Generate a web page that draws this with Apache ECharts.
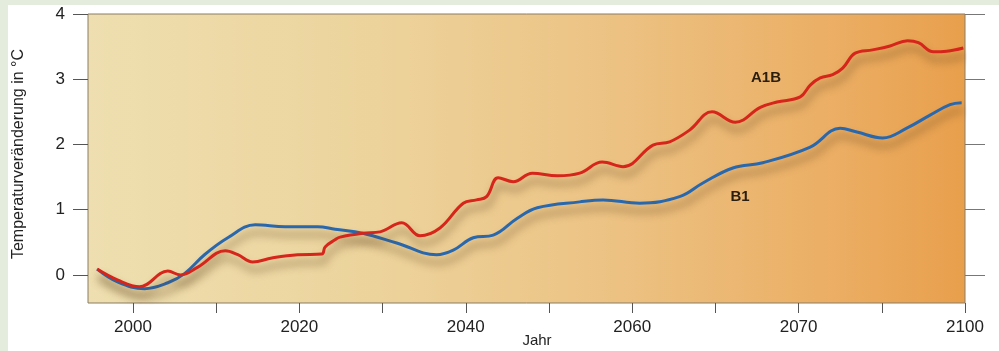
<!DOCTYPE html>
<html>
<head>
<meta charset="utf-8">
<script src="https://cdn.jsdelivr.net/npm/echarts@6/dist/echarts.min.js"></script>
<style>
html,body{margin:0;padding:0;background:#fff;}
#c{width:999px;height:351px;}
</style>
</head>
<body>
<div id="c"></div>
<script>
// Years and temperature change (°C)
const a1bYears = [1995.7,1998.2,2000.8,2004.2,2005.7,2007.8,2011.1,2012.6,2014.4,2016.7,2019.8,2022.7,2023.1,2024.3,2024.9,2027.6,2029.7,2032.3,2034.5,2036.9,2039.7,2041.3,2042.5,2043.9,2045.7,2048.0,2051.0,2053.7,2056.4,2058.9,2062.5,2064.5,2066.9,2069.6,2072.4,2075.4,2077.4,2080.2,2081.4,2082.6,2084.1,2085.3,2086.8,2088.9,2091.0,2093.1,2094.4,2096.2,2097.8,2099.8];
const a1bValues = [0.09,-0.08,-0.18,0.06,0.0,0.12,0.37,0.31,0.20,0.26,0.31,0.32,0.43,0.54,0.58,0.64,0.66,0.80,0.60,0.72,1.10,1.15,1.20,1.49,1.43,1.56,1.52,1.56,1.73,1.66,1.99,2.04,2.22,2.50,2.34,2.57,2.65,2.73,2.91,3.02,3.07,3.17,3.40,3.45,3.51,3.59,3.56,3.42,3.43,3.48];
const b1Years = [1995.7,1998.2,2001.4,2004.2,2006.2,2008.6,2011.4,2014.7,2018.3,2022.2,2024.3,2027.6,2031.7,2036.5,2038.5,2040.9,2043.3,2046.2,2048.6,2053.7,2056.5,2060.9,2065.7,2068.5,2072.1,2075.7,2081.4,2085.0,2087.0,2090.1,2093.0,2095.8,2098.2,2099.6];
const b1Values = [0.09,-0.11,-0.21,-0.12,0.02,0.31,0.57,0.77,0.74,0.74,0.70,0.64,0.49,0.31,0.38,0.57,0.61,0.87,1.03,1.12,1.15,1.10,1.20,1.41,1.64,1.72,1.96,2.25,2.19,2.10,2.25,2.45,2.61,2.64];
const xTickValues = [2000,2010,2020,2030,2040,2050,2060,2070,2080,2090,2100];
const xLabelValues = [2000,2020,2040,2060,2080,2100];
const xLabelTexts = ['2000','2020','2040','2060','2070','2100'];
const yTickValues = [0,1,2,3,4];
const yLabelTexts = ['0','1','2','3','4'];

const chart = echarts.init(document.getElementById('c'), null, {renderer:'canvas'});
const pair = (xs, ys) => xs.map((x,i)=>[x, ys[i]]);
const shadow = {shadowColor:'rgba(90,60,25,0.6)', shadowBlur:8, shadowOffsetX:2, shadowOffsetY:8};
const FONT = 'Liberation Sans, Arial, sans-serif';

chart.setOption({
  animation:false,
  backgroundColor:'#ffffff',
  grid:{left:88, right:34, top:14, bottom:48, show:true, borderColor:'#8a7c66', borderWidth:1,
    outerBoundsMode:'none', containLabel:false,
    backgroundColor:new echarts.graphic.LinearGradient(0,0,1,0,[
      {offset:0,color:'#eedfb0'},{offset:0.35,color:'#ecd29a'},{offset:0.6,color:'#ecc283'},
      {offset:0.85,color:'#ebae64'},{offset:1,color:'#e89f4c'}])},
  xAxis:{type:'value', min:1994.6, max:2100,
    axisLine:{show:false, onZero:false},
    splitLine:{show:false},
    axisTick:{show:true, inside:false, length:10, customValues:xTickValues, lineStyle:{color:'#555',width:1}},
    axisLabel:{customValues:xLabelValues, margin:16, color:'#222', fontSize:17, fontFamily:FONT,
      formatter:(v)=>{const i=xLabelValues.indexOf(v); return i>=0?xLabelTexts[i]:'';}}
  },
  yAxis:[{type:'value', min:-0.43, max:4,
    axisLine:{show:false, onZero:false}, splitLine:{show:false},
    axisTick:{show:true, length:15, customValues:yTickValues, lineStyle:{color:'#555',width:1}},
    axisLabel:{customValues:yTickValues, margin:23, color:'#222', fontSize:17, fontFamily:FONT,
      formatter:(v)=>{const i=yTickValues.indexOf(v); return i>=0?yLabelTexts[i]:'';}}
  },{type:'value', min:-0.43, max:4, position:'right',
    axisLine:{show:false, onZero:false}, splitLine:{show:false},
    axisTick:{show:true, length:20, customValues:yTickValues, lineStyle:{color:'#777',width:1}},
    axisLabel:{show:false}
  }],
  graphic:[
    {type:'rect', left:0, top:0, shape:{width:8, height:351}, style:{fill:'#e4ecdd'}, z:-10},
    {type:'rect', left:0, top:0, shape:{width:999, height:5}, style:{fill:'#e4ecdd'}, z:-10},
    {type:'text', x:19, y:154, rotation:Math.PI/2, style:{text:'Temperaturveränderung in °C', fill:'#222', font:'16px "Liberation Sans", Arial, sans-serif', align:'center', verticalAlign:'middle'}},
    {type:'text', x:537, y:341, style:{text:'Jahr', fill:'#222', font:'15px "Liberation Sans", Arial, sans-serif', align:'center', verticalAlign:'middle'}},
    {type:'text', x:766, y:78, style:{text:'A1B', fill:'#2a1e10', font:'bold 15px "Liberation Sans", Arial, sans-serif', align:'center', verticalAlign:'middle'}, z:10},
    {type:'text', x:740, y:197, style:{text:'B1', fill:'#2a1e10', font:'bold 15px "Liberation Sans", Arial, sans-serif', align:'center', verticalAlign:'middle'}, z:10}
  ],
  series:[
    {name:'A1B', type:'line', data:pair(a1bYears,a1bValues), smooth:0.4, showSymbol:false,
      lineStyle:Object.assign({color:'#d6261b', width:3}, shadow), z:3},
    {name:'B1', type:'line', data:pair(b1Years,b1Values), smooth:0.4, showSymbol:false,
      lineStyle:Object.assign({color:'#2a68ae', width:3}, shadow), z:2}
  ]
});
</script>
</body>
</html>
